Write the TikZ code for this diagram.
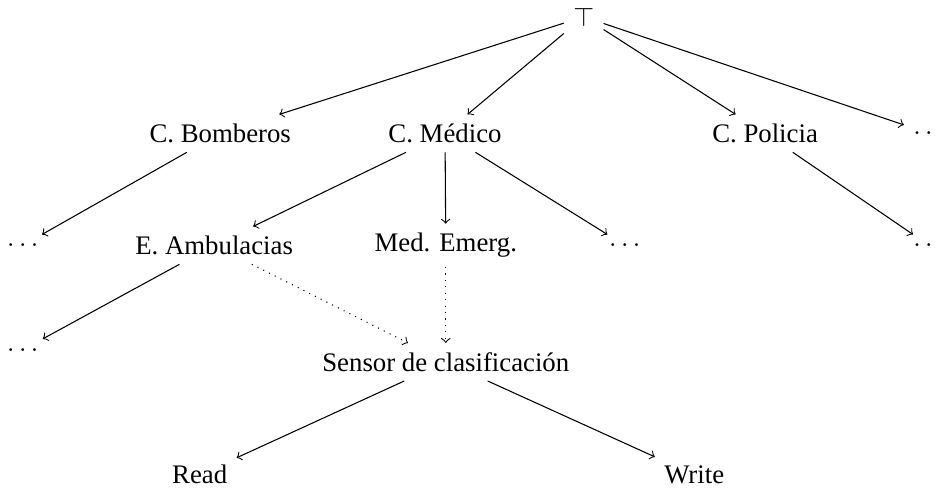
\documentclass[tikz,border=0pt]{standalone}
\usepackage{fontspec}
\setmainfont{Liberation Serif}

\begin{document}
\begin{tikzpicture}[>=to]
	\def\xMAX{12.27};
	\def\yMIN{-6.42};

	\def\lA{-0.22};
	\def\lB{-1.75};
	\def\lC{-3.22};
	\def\lD{-4.59};
	\def\lE{-4.75};
	\def\lF{-6.23};

	\useasboundingbox (0,0) rectangle (\xMAX,\yMIN);

	\begin{scope}
		\node (top) at (7.66,\lA) {$\top$};
	\end{scope}

	\begin{scope}
		\node (bomberos) at (2.89,\lB) {C. Bomberos};
		\node (medico) at (5.84,\lB) {C. Médico};
		\node (policia) at (10.04,\lB) {C. Policia};
		\node (dotsRA) at (12.19,\lB) {$\ldots$};
	\end{scope}

	\begin{scope}
		\node (dotsLA) at (0.30,\lC) {$\ldots$};
		\node (ambulancias) at (2.81,\lC) {E. Ambulacias};
		\node (emergencias) at (5.85,\lC) {Med. Emerg.};
		\node (dotsM) at (8.20,\lC) {$\ldots$};
		\node (dotsRB) at (12.19,\lC) {$\ldots$};
	\end{scope}

	\begin{scope}
		\node (dotsLB) at (0.30,\lD) {$\ldots$};
		\node (sensor) at (5.85,\lE) {Sensor de clasificación};
		\node (read) at (2.62,\lF) {Read};
		\node (write) at (9.11,\lF) {Write};
	\end{scope}

	\begin{scope}[->]
		\draw (top) -- (bomberos);
		\draw (top) -- (medico);
		\draw (top) -- (policia);
		\draw (top) -- (dotsRA);

		\draw (bomberos) -- (dotsLA);
		\draw (medico) -- (ambulancias);
		\draw (medico) -- (emergencias);
		\draw (medico) -- (dotsM);
		\draw (policia) -- (dotsRB);
		\draw (ambulancias) -- (dotsLB);

		\draw (sensor) -- (read);
		\draw (sensor) -- (write);
	\end{scope}

	\begin{scope}[->, dotted]
		\draw (ambulancias) -- (sensor);
		\draw (emergencias) -- (sensor);
	\end{scope}
\end{tikzpicture}
\end{document}
